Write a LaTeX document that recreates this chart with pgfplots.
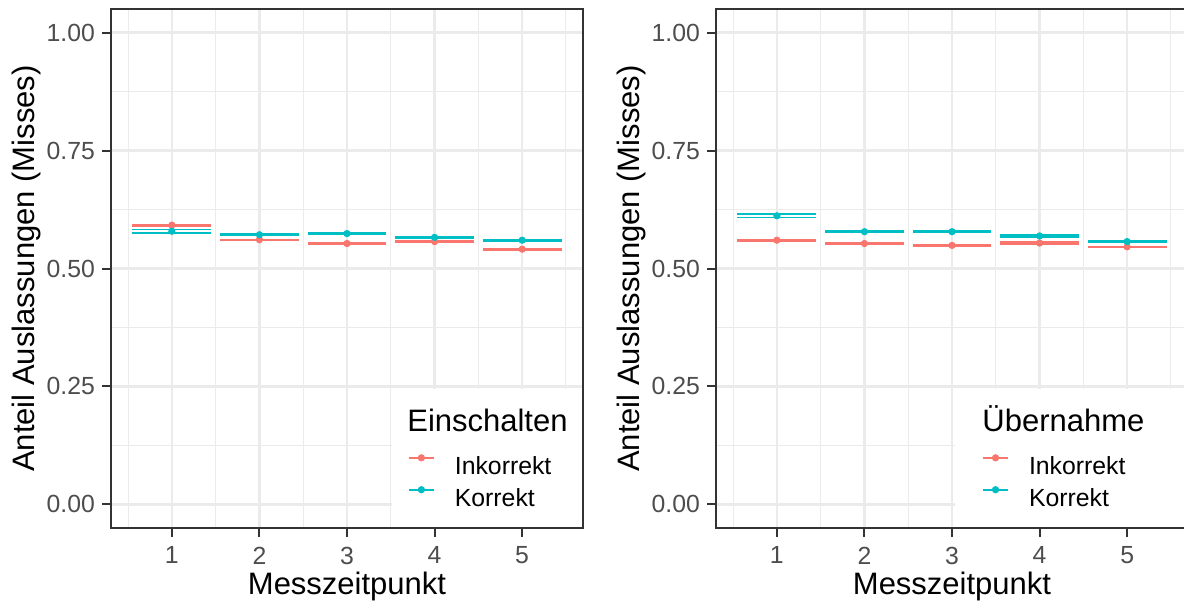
\documentclass[border=0pt]{standalone}
\usepackage{fontspec}
\setmainfont{Liberation Sans}
\usepackage{pgfplots}
\usepackage{pgfplotstable}
\pgfplotsset{compat=1.18}
\definecolor{cInk}{HTML}{F8766D}
\definecolor{cKor}{HTML}{00BFC4}
\definecolor{grey20}{HTML}{333333}
\definecolor{grey30}{HTML}{4D4D4D}
\definecolor{grey92}{HTML}{EBEBEB}

\pgfplotstableread{
x y lo hi
1 0.592 0.5905 0.5935
2 0.561 0.5605 0.5615
3 0.553 0.5515 0.5545
4 0.557 0.5555 0.5585
5 0.541 0.5395 0.5425
}\leftInk
\pgfplotstableread{
x y lo hi
1 0.579 0.5752 0.5825
2 0.5715 0.5700 0.5730
3 0.574 0.5725 0.5755
4 0.566 0.5645 0.5675
5 0.560 0.5585 0.5615
}\leftKor
\pgfplotstableread{
x y lo hi
1 0.560 0.5585 0.5615
2 0.553 0.5515 0.5545
3 0.549 0.5475 0.5505
4 0.554 0.5525 0.5555
5 0.546 0.5455 0.5465
}\rightInk
\pgfplotstableread{
x y lo hi
1 0.6117 0.6082 0.6148
2 0.578 0.5765 0.5795
3 0.578 0.5765 0.5795
4 0.569 0.5675 0.5705
5 0.557 0.5555 0.5585
}\rightKor

\pgfplotsset{
  panel/.style={
    width=236pt, height=259.5pt, scale only axis,
    xmin=0.305, xmax=5.695, ymin=-0.05, ymax=1.05,
    xtick={1,2,3,4,5}, ytick={0,0.25,0.5,0.75,1},
    minor xtick={0.5,1.5,2.5,3.5,4.5,5.5},
    minor ytick={0.125,0.375,0.625,0.875},
    grid=both,
    major grid style={grey92, line width=1.1pt},
    minor grid style={grey92, line width=0.55pt},
    axis line style={grey20, line width=1pt},
    major tick style={grey20, line width=1pt},
    major tick length=4.5pt, minor tick length=0pt,
    tick align=outside, xtick pos=bottom, ytick pos=left,
    ticklabel style={font=\fontsize{12.4}{14}\selectfont, text=grey30},
    yticklabel style={/pgf/number format/.cd, fixed, fixed zerofill, precision=2, assume math mode=true},
    xticklabel style={/pgf/number format/assume math mode=true, yshift=-1.4pt},
    label style={font=\fontsize{15.5}{18}\selectfont},
    xlabel={Messzeitpunkt},
    ylabel={Anteil Auslassungen (Misses)},
    xlabel style={at={(axis description cs:0.5,-0.0848)}, anchor=north, inner sep=0pt},
    ylabel style={at={(axis description cs:-0.2097,0.5)}, anchor=north, inner sep=0pt},
    legend cell align=left,
    legend image code/.code={
      \draw[line width=1pt] (0pt,4.4pt) -- (12.5pt,4.4pt);
      \fill (6.25pt,4.4pt) circle (1.6pt);
    },
    legend style={draw=none, fill=none, inner sep=0pt, outer sep=0pt,
      anchor=south west,
      font=\fontsize{12.4}{14}\selectfont, row sep=4.5pt,
      nodes={inner sep=0pt, outer sep=0pt},
      /tikz/every odd column/.append style={column sep=10pt}},
    after end axis/.code={
      \draw[grey20, line width=1pt] (rel axis cs:0,0) rectangle (rel axis cs:1,1);
    },
  },
  cap/.style={only marks, mark=-, mark size=19.7pt, mark options={line width=0.85pt}, forget plot},
  pts/.style={only marks, mark=*, mark size=1.6pt},
}

\begin{document}
\begin{tikzpicture}
\useasboundingbox (0,0) rectangle (592pt,303.5pt);
\begin{axis}[panel, at={(55.5pt,39.5pt)}, anchor=south west,
  legend style={at={(rel axis cs:0.629,0.0366)}}]
  \fill[white] (rel axis cs:0.595,0) rectangle (rel axis cs:1,0.268);
  \node[anchor=base west, inner sep=0pt, font=\fontsize{15.5}{18}\selectfont] at (rel axis cs:0.627,0.185) {Einschalten};
  \addplot[cap, cInk] table[x=x, y=lo] {\leftInk};
  \addplot[cap, cInk] table[x=x, y=hi] {\leftInk};
  \addplot[cap, cKor] table[x=x, y=lo] {\leftKor};
  \addplot[cap, cKor] table[x=x, y=hi] {\leftKor};
  \addplot[pts, cInk] table[x=x, y=y] {\leftInk};
  \addlegendentry{Inkorrekt}
  \addplot[pts, cKor] table[x=x, y=y] {\leftKor};
  \addlegendentry{Korrekt}
\end{axis}
\begin{axis}[panel, at={(358pt,39.5pt)}, anchor=south west,
  legend style={at={(rel axis cs:0.5636,0.0366)}}]
  \fill[white] (rel axis cs:0.506,0) rectangle (rel axis cs:1,0.268);
  \node[anchor=base west, inner sep=0pt, font=\fontsize{15.5}{18}\selectfont] at (rel axis cs:0.5636,0.185) {Übernahme};
  \addplot[cap, cInk] table[x=x, y=lo] {\rightInk};
  \addplot[cap, cInk] table[x=x, y=hi] {\rightInk};
  \addplot[cap, cKor] table[x=x, y=lo] {\rightKor};
  \addplot[cap, cKor] table[x=x, y=hi] {\rightKor};
  \addplot[pts, cInk] table[x=x, y=y] {\rightInk};
  \addlegendentry{Inkorrekt}
  \addplot[pts, cKor] table[x=x, y=y] {\rightKor};
  \addlegendentry{Korrekt}
\end{axis}
\end{tikzpicture}
\end{document}
